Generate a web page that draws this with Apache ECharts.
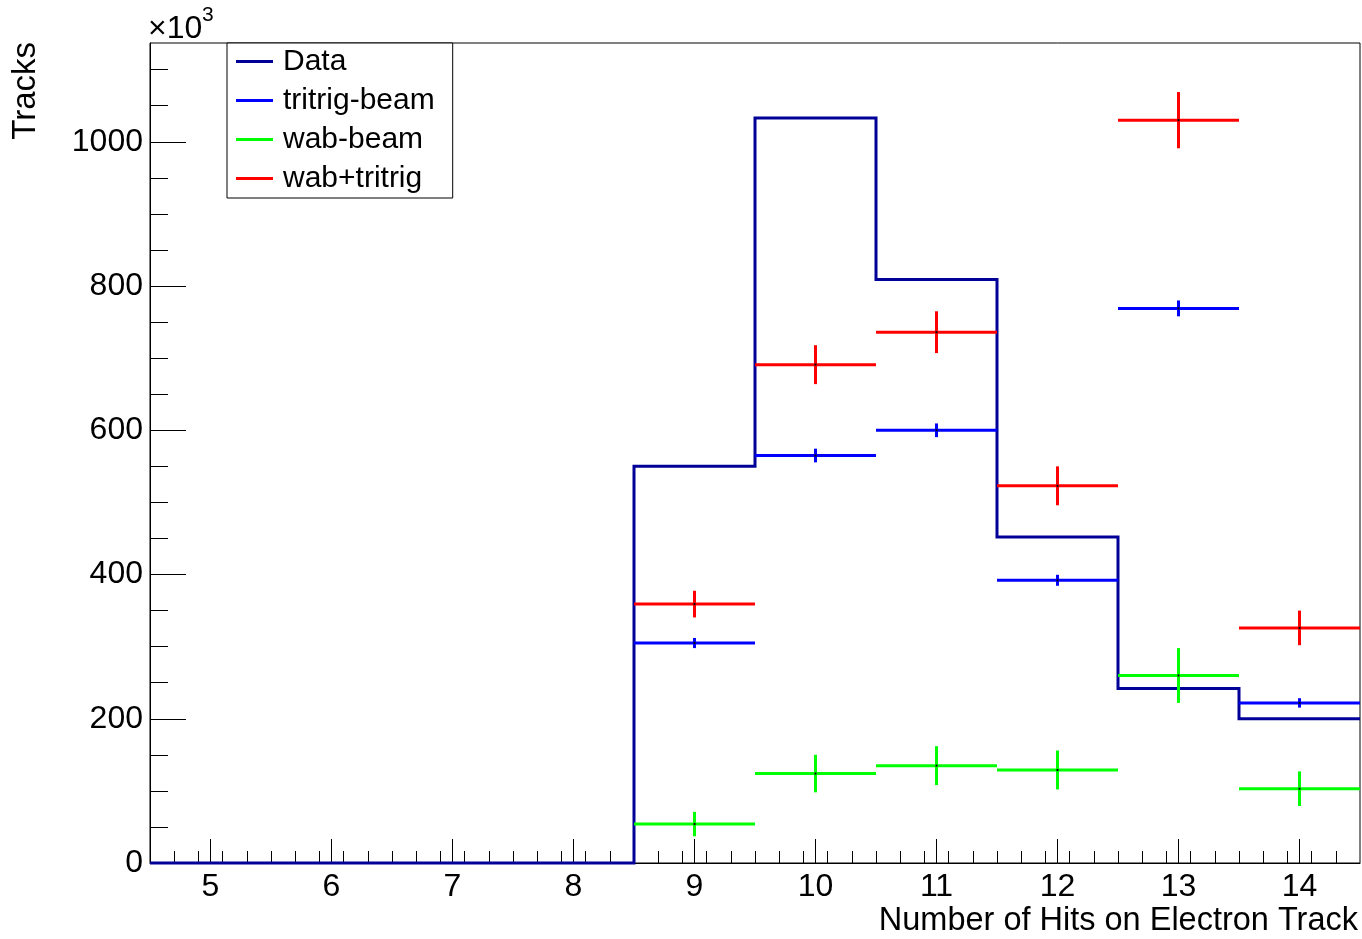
<!DOCTYPE html>
<html>
<head>
<meta charset="utf-8">
<script src="https://cdn.jsdelivr.net/npm/echarts@6/dist/echarts.min.js"></script>
<style>
html,body{margin:0;padding:0;background:#fff;}
#chart{width:1362px;height:939px;}
</style>
</head>
<body>
<div id="chart"></div>
<script>
// ---- data (y values in units of 10^3 tracks) ----
const binCenters = [5, 6, 7, 8, 9, 10, 11, 12, 13, 14];
const binWidth = 1;
const dataCounts = [0, 0, 0, 0, 550, 1033, 809, 452, 242, 200];
const tritrigBeam = [0, 0, 0, 0, 305, 565, 600, 392, 769, 222];
const tritrigBeamErr = [0, 0, 0, 0, 7, 9.5, 9.5, 7.6, 11, 6.5];
const wabBeam = [0, 0, 0, 0, 54, 124, 135, 129, 260, 103];
const wabBeamErr = [0, 0, 0, 0, 17, 26, 27, 27, 38, 24];
const wabTritrig = [0, 0, 0, 0, 359, 691, 736, 523, 1030, 326];
const wabTritrigErr = [0, 0, 0, 0, 18.5, 27, 29, 27, 39, 24];
const xTickLabels = [5, 6, 7, 8, 9, 10, 11, 12, 13, 14];
const yTickLabels = [0, 200, 400, 600, 800, 1000];
const seriesNames = ['Data', 'tritrig-beam', 'wab-beam', 'wab+tritrig'];

const xMin = 4.5, xMax = 14.5, yMin = 0, yMax = 1137;
const FONT = 'Liberation Sans';

// histogram outline for Data
const dataOutline = [];
binCenters.forEach((c, i) => {
  dataOutline.push([c - binWidth / 2, dataCounts[i]]);
  dataOutline.push([c + binWidth / 2, dataCounts[i]]);
});

function errPoints(vals, errs) {
  const out = [];
  binCenters.forEach((c, i) => { if (vals[i] > 0) out.push([c, vals[i], errs[i]]); });
  return out;
}

// minor tick positions
const xMinor = [];
for (let k = 1; k < 50; k++) { const v = +(xMin + k * 0.2).toFixed(2); if (Math.abs(v - Math.round(v)) > 1e-6) xMinor.push(v); }
const yMinor = [];
for (let v = 50; v < yMax; v += 50) { if (v % 200 !== 0) yMinor.push(v); }

function errRender(color) {
  return function (params, api) {
    const c = api.value(0), v = api.value(1), e = api.value(2);
    const pL = api.coord([c - binWidth / 2, v]);
    const pR = api.coord([c + binWidth / 2, v]);
    const pT = api.coord([c, v + e]);
    const pB = api.coord([c, v - e]);
    const pC = api.coord([c, v]);
    return {
      type: 'group',
      children: [
        { type: 'line', shape: { x1: pL[0], y1: pL[1], x2: pR[0], y2: pR[1] }, style: { stroke: color, lineWidth: 3 } },
        { type: 'line', shape: { x1: pT[0], y1: pT[1], x2: pB[0], y2: pB[1] }, style: { stroke: color, lineWidth: 3 } },
        { type: 'rect', shape: { x: pC[0] - 1, y: pC[1] - 1, width: 2, height: 2 }, style: { fill: '#000' } }
      ]
    };
  };
}

const colors = ['#000099', '#0000ff', '#00ff00', '#ff0000'];
const plain = v => String(v);

const chart = echarts.init(document.getElementById('chart'));
chart.setOption({
  animation: false,
  backgroundColor: '#fff',
  textStyle: { fontFamily: FONT },
  grid: { left: 150, right: 2, top: 43, bottom: 76, show: true, borderColor: '#000', borderWidth: 1, backgroundColor: 'transparent' },
  legend: {
    orient: 'vertical',
    left: 227, top: 43,
    backgroundColor: '#fff',
    borderColor: '#000', borderWidth: 1,
    padding: [3, 18, 4, 9],
    itemWidth: 37, itemHeight: 3, itemGap: 8,
    icon: 'rect',
    textStyle: { fontFamily: FONT, fontSize: 30, color: '#000', lineHeight: 31, padding: [0, 0, 0, 5] },
    data: seriesNames
  },
  xAxis: [{
    type: 'value', min: xMin, max: xMax, position: 'bottom',
    axisLine: { show: true, lineStyle: { color: '#000', width: 1 } },
    axisTick: { show: true, inside: true, length: 24, lineStyle: { color: '#000', width: 1 }, customValues: xTickLabels },
    axisLabel: { show: true, customValues: xTickLabels, formatter: plain, margin: 8, fontFamily: FONT, fontSize: 32, color: '#000' },
    splitLine: { show: false }
  }, {
    type: 'value', min: xMin, max: xMax, position: 'bottom', gridIndex: 0,
    axisLine: { show: false },
    axisTick: { show: true, inside: true, length: 12, lineStyle: { color: '#000', width: 1 }, customValues: xMinor },
    axisLabel: { show: false },
    splitLine: { show: false }
  }],
  yAxis: [{
    type: 'value', min: yMin, max: yMax, position: 'left',
    axisLine: { show: true, lineStyle: { color: '#000', width: 1 } },
    axisTick: { show: true, inside: true, length: 36, lineStyle: { color: '#000', width: 1 }, customValues: yTickLabels },
    axisLabel: { show: true, customValues: yTickLabels, formatter: plain, margin: 7, fontFamily: FONT, fontSize: 32, color: '#000' },
    splitLine: { show: false }
  }, {
    type: 'value', min: yMin, max: yMax, position: 'left', gridIndex: 0,
    axisLine: { show: false },
    axisTick: { show: true, inside: true, length: 18, lineStyle: { color: '#000', width: 1 }, customValues: yMinor },
    axisLabel: { show: false },
    splitLine: { show: false }
  }],
  graphic: [
    { type: 'text', x: 148, y: 29, style: { text: '×10', font: '32px "Liberation Sans"', fill: '#000', align: 'left', verticalAlign: 'middle' } },
    { type: 'text', x: 202, y: 15, style: { text: '3', font: '21px "Liberation Sans"', fill: '#000', align: 'left', verticalAlign: 'middle' } },
    { type: 'text', x: 26, y: 42, rotation: Math.PI / 2, style: { text: 'Tracks', font: '33px "Liberation Sans"', fill: '#000', align: 'right', verticalAlign: 'middle' } },
    { type: 'text', x: 1358, y: 921, style: { text: 'Number of Hits on Electron Track', font: '32.5px "Liberation Sans"', fill: '#000', align: 'right', verticalAlign: 'middle' } }
  ],
  series: [
    {
      name: seriesNames[0], type: 'line', data: dataOutline, showSymbol: false, symbol: 'none',
      clip: false, z: 3,
      lineStyle: { color: colors[0], width: 3, join: 'miter' }, itemStyle: { color: colors[0] }
    },
    { name: seriesNames[1], type: 'custom', data: errPoints(tritrigBeam, tritrigBeamErr), renderItem: errRender(colors[1]), itemStyle: { color: colors[1] }, z: 4, clip: false },
    { name: seriesNames[2], type: 'custom', data: errPoints(wabBeam, wabBeamErr), renderItem: errRender(colors[2]), itemStyle: { color: colors[2] }, z: 4, clip: false },
    { name: seriesNames[3], type: 'custom', data: errPoints(wabTritrig, wabTritrigErr), renderItem: errRender(colors[3]), itemStyle: { color: colors[3] }, z: 4, clip: false }
  ]
});
</script>
</body>
</html>
